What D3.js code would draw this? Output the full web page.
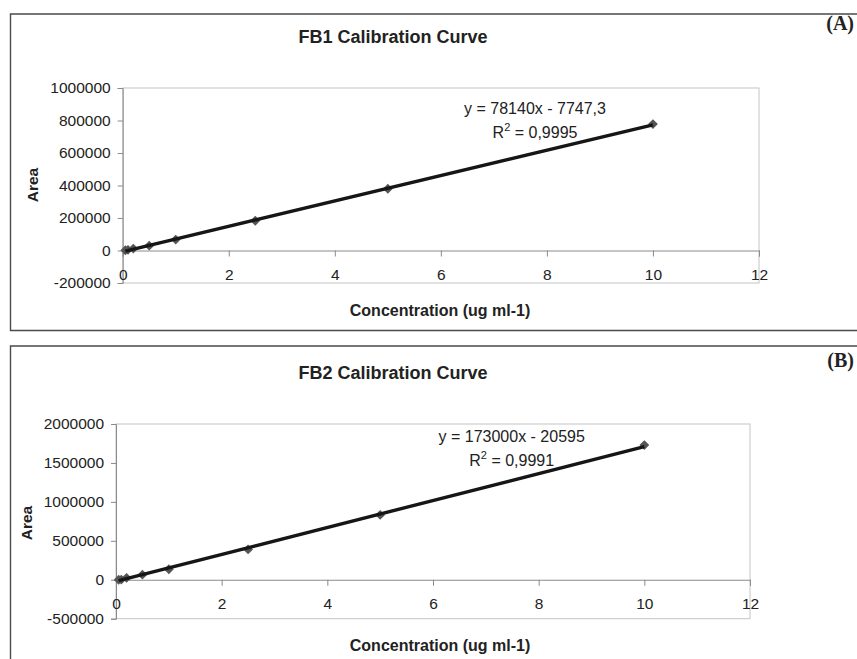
<!DOCTYPE html>
<html>
<head>
<meta charset="utf-8">
<script src="https://cdn.jsdelivr.net/npm/d3@7"></script>
<style>
  body { margin:0; background:#fff; }
  svg { display:block; font-family:"Liberation Sans", Arial, Helvetica, sans-serif; }
</style>
</head>
<body>
<svg id="chart" width="857" height="659"></svg>
<script>
// ---- data ----
const concA = [0.05, 0.1, 0.2, 0.5, 1, 2.5, 5, 10];
const areaA = [1500, 4000, 12000, 30000, 67000, 183000, 380000, 778000];
const fitA = [78140, -7747.3];           // slope, intercept
const concB = [0.05, 0.1, 0.2, 0.5, 1, 2.5, 5, 10];
const areaB = [0, 3000, 25000, 65000, 135000, 390000, 832000, 1730000];
const fitB = [173000, -20595];

const xTicks = [0, 2, 4, 6, 8, 10, 12];
const yTicksA = [-200000, 0, 200000, 400000, 600000, 800000, 1000000];
const yTicksB = [-500000, 0, 500000, 1000000, 1500000, 2000000];

const titles = ["FB1 Calibration Curve", "FB2 Calibration Curve"];
const eqText = ["y = 78140x - 7747,3", "y = 173000x - 20595"];
const r2Text = ["0,9995", "0,9991"];
const panelTags = ["(A)", "(B)"];

const svg = d3.select("#chart");

function drawPanel(p){
  // outer frame
  svg.append("path")
    .attr("d", p.frame)
    .attr("fill","none").attr("stroke","#4a4a4a").attr("stroke-width",1.4);

  const x = d3.scaleLinear().domain([0,12]).range([p.l, p.r]);
  const y = d3.scaleLinear().domain([p.yTicks[0], p.yTicks[p.yTicks.length-1]]).range([p.b, p.t]);

  // plot area border
  svg.append("rect")
    .attr("x", p.l).attr("y", p.t).attr("width", p.r-p.l).attr("height", p.b-p.t)
    .attr("fill","none").attr("stroke","#c4c4c4").attr("stroke-width",1);

  // y axis
  const ya = svg.append("g").attr("transform",`translate(${p.l},0)`)
    .call(d3.axisLeft(y).tickValues(p.yTicks).tickSize(5).tickPadding(7).tickFormat(d=>String(d)));
  ya.selectAll("text").attr("font-size",15.5).attr("fill","#222").attr("font-family","inherit");

  // x axis at y = 0
  const xa = svg.append("g").attr("transform",`translate(0,${y(0)})`)
    .call(d3.axisBottom(x).tickValues(xTicks).tickSize(6).tickPadding(12));
  xa.selectAll("text").attr("font-size",15.5).attr("fill","#222").attr("font-family","inherit");
  svg.selectAll(".domain,.tick line").attr("stroke","#8a8a8a");

  // markers
  svg.append("g").selectAll("path")
    .data(p.conc.map((c,i)=>[c, p.area[i]]))
    .enter().append("path")
    .attr("d", d3.symbol(d3.symbolSquare, 48))
    .attr("transform", d=>`translate(${x(d[0])},${y(d[1])}) rotate(45)`)
    .attr("fill","#555");

  // trendline
  const x0 = d3.min(p.conc), x1 = d3.max(p.conc);
  const line = d3.line().x(d=>x(d)).y(d=>y(p.fit[0]*d + p.fit[1]));
  svg.append("path").attr("d", line([x0, x1]))
    .attr("fill","none").attr("stroke","#161616").attr("stroke-width",3.4);

  // title
  svg.append("text").attr("x", p.titleX).attr("y", p.titleY)
    .attr("text-anchor","middle").attr("font-size",18).attr("font-weight","bold")
    .attr("fill","#222").text(p.title);

  // axis titles
  svg.append("text")
    .attr("transform",`translate(${p.areaX},${p.areaY}) rotate(-90)`)
    .attr("text-anchor","middle").attr("font-size",15.5).attr("font-weight","bold")
    .attr("fill","#222").text("Area");
  svg.append("text").attr("x", 440).attr("y", p.xTitleY)
    .attr("text-anchor","middle").attr("font-size",16).attr("font-weight","bold")
    .attr("fill","#222").text("Concentration (ug ml-1)");

  // equation
  svg.append("text").attr("x", p.eqX).attr("y", p.eqY)
    .attr("text-anchor","middle").attr("font-size",16).attr("fill","#222").text(p.eq);
  const r2 = svg.append("text").attr("x", p.eqX).attr("y", p.eqY+24)
    .attr("text-anchor","middle").attr("font-size",16).attr("fill","#222");
  r2.append("tspan").text("R");
  r2.append("tspan").attr("dy",-7).attr("font-size",11).text("2");
  r2.append("tspan").attr("dy",7).text(" = " + p.r2);

  // panel tag
  svg.append("text").attr("x", 854).attr("y", p.tagY)
    .attr("text-anchor","end").attr("font-size",20).attr("font-weight","bold")
    .attr("font-family","'Liberation Serif', 'Times New Roman', serif")
    .attr("fill","#222").text(p.tag);
}

drawPanel({
  frame: "M858,14 H10.5 V330.5 H858",
  l:122.7, r:759, t:88, b:283, yTicks:yTicksA,
  conc:concA, area:areaA, fit:fitA,
  title:titles[0], titleX:393, titleY:43,
  areaX:38, areaY:185, xTitleY:316,
  eq:eqText[0], r2:r2Text[0], eqX:535, eqY:114,
  tag:panelTags[0], tagY:30
});

drawPanel({
  frame: "M858,346 H10.5 V660",
  l:116, r:750, t:424, b:618.7, yTicks:yTicksB,
  conc:concB, area:areaB, fit:fitB,
  title:titles[1], titleX:393, titleY:379,
  areaX:32, areaY:523, xTitleY:651,
  eq:eqText[1], r2:r2Text[1], eqX:511.7, eqY:442,
  tag:panelTags[1], tagY:367
});
</script>
</body>
</html>
